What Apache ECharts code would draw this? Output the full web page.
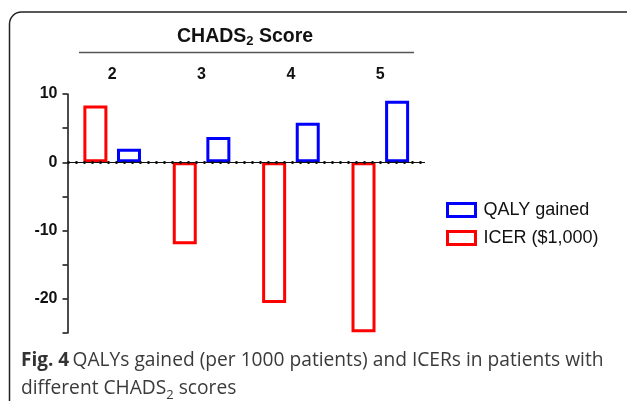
<!DOCTYPE html>
<html>
<head>
<meta charset="utf-8">
<style>
html,body{margin:0;padding:0;background:#fff;}
#chart{width:627px;height:401px;}
</style>
<script src="https://cdn.jsdelivr.net/npm/echarts@6/dist/echarts.min.js"></script>
</head>
<body>
<div id="chart"></div>
<script>
var categories = ['2', '3', '4', '5'];
var icerValues = [8.3, -12.0, -20.6, -24.9];
var qalyValues = [2.0, 3.7, 5.8, 9.0];
var yTickLabels = [10, 0, -10, -20];

var chart = echarts.init(document.getElementById('chart'), null, {renderer: 'canvas'});
var option = {
  backgroundColor: '#ffffff',
  animation: false,
  textStyle: {fontFamily: 'Liberation Sans'},
  grid: {left: 67.5, right: 202, top: 94, bottom: 68, containLabel: false},
  legend: {
    orient: 'vertical',
    left: 441,
    top: 196,
    itemWidth: 28,
    itemHeight: 13,
    itemGap: 10,
    icon: 'rect',
    data: [
      {name: 'QALY gained', itemStyle: {color: '#ffffff', borderColor: '#0000ff', borderWidth: 3}},
      {name: 'ICER ($1,000)', itemStyle: {color: '#ffffff', borderColor: '#ff0000', borderWidth: 3}}
    ],
    textStyle: {fontSize: 18, lineHeight: 18, color: '#111', fontFamily: 'Liberation Sans', padding: [0, 0, 0, 3]}
  },
  xAxis: {
    type: 'category',
    position: 'top',
    data: categories,
    axisLine: {show: false},
    axisTick: {show: false},
    axisLabel: {fontSize: 16, fontWeight: 'bold', color: '#111', margin: 11}
  },
  yAxis: {
    type: 'value',
    min: -25,
    max: 10,
    interval: 5,
    splitLine: {show: false},
    axisLine: {show: true, lineStyle: {color: '#111', width: 1.5}},
    axisTick: {show: true, inside: false, length: 5, lineStyle: {color: '#111', width: 1.5}},
    axisLabel: {
      fontSize: 16, fontWeight: 'bold', color: '#111', margin: 10,
      formatter: function (v) { return yTickLabels.indexOf(v) >= 0 ? String(v) : ''; }
    }
  },
  series: [
    {
      name: 'ICER ($1,000)',
      type: 'bar',
      data: icerValues,
      barWidth: 24,
      barGap: '40%',
      itemStyle: {color: '#ffffff', borderColor: '#ff0000', borderWidth: 3},
      markLine: {
        silent: true,
        symbol: 'none',
        label: {show: false},
        data: [
          {yAxis: 0, lineStyle: {color: '#111', width: 1, type: 'solid'}},
          {yAxis: 0, lineStyle: {color: '#111', width: 3, type: [2, 6]}}
        ]
      }
    },
    {
      name: 'QALY gained',
      type: 'bar',
      data: qalyValues,
      barWidth: 24,
      itemStyle: {color: '#ffffff', borderColor: '#0000ff', borderWidth: 3}
    }
  ],
  graphic: [
    {
      type: 'rect', silent: true,
      shape: {x: 9.5, y: 12, width: 628, height: 500, r: 12},
      style: {fill: 'none', stroke: '#222', lineWidth: 1.5}
    },
    {
      type: 'line', silent: true,
      shape: {x1: 79, y1: 52.5, x2: 414, y2: 52.5},
      style: {stroke: '#555', lineWidth: 1.5}
    },
    {
      type: 'text', silent: true,
      left: 177, top: 26,
      style: {
        text: '{b|CHADS}{s|2}{b| Score}',
        rich: {
          b: {fontSize: 19.5, fontWeight: 'bold', fill: '#111', fontFamily: 'Liberation Sans', lineHeight: 21},
          s: {fontSize: 13, fontWeight: 'bold', fill: '#111', fontFamily: 'Liberation Sans', lineHeight: 13, padding: [9, 0, 0, 0]}
        }
      }
    },
    {
      type: 'text', silent: true,
      left: 21, top: 351,
      style: {
        text: '{fb|Fig. 4} {f|QALYs gained (per 1000 patients) and ICERs in patients with}\n{f|different CHADS}{fs|2}{f| scores}',
        rich: {
          fb: {fontSize: 19, fontWeight: 'bold', fill: '#333', fontFamily: 'Open Sans', lineHeight: 28},
          f: {fontSize: 19.2, fill: '#3a3a3a', fontFamily: 'Open Sans', lineHeight: 28},
          fs: {fontSize: 13, fill: '#3a3a3a', fontFamily: 'Open Sans', lineHeight: 13, padding: [13, 0, 0, 0]}
        }
      }
    }
  ]
};
chart.setOption(option);
</script>
</body>
</html>
